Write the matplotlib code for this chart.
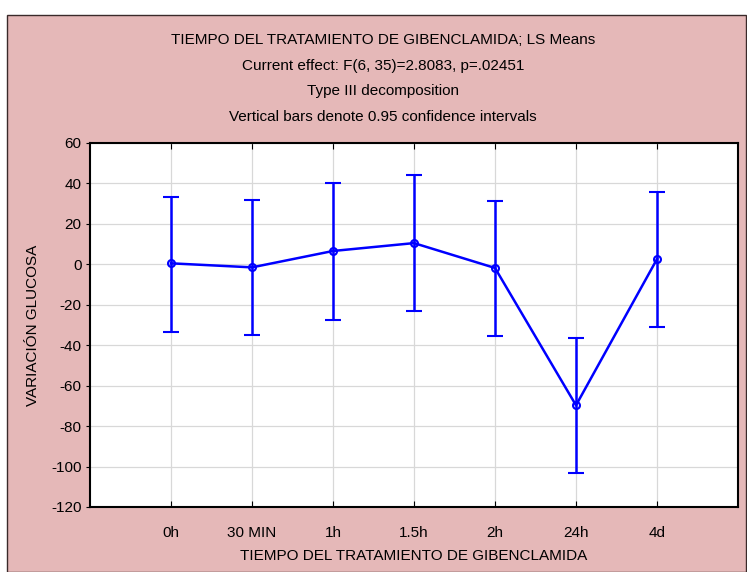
import matplotlib
matplotlib.use("Agg")
import matplotlib.pyplot as plt
from matplotlib.patches import Rectangle

categories = ["0h", "30 MIN", "1h", "1.5h", "2h", "24h", "4d"]
means = [0.5, -1.5, 6.6, 10.5, -1.8, -69.7, 2.6]
upper = [33.3, 31.8, 40.2, 44.2, 31.3, -36.5, 35.8]
lower = [-33.5, -35.0, -27.5, -23.0, -35.5, -103.0, -31.0]
yticks = [60, 40, 20, 0, -20, -40, -60, -80, -100, -120]

titles = ["TIEMPO DEL TRATAMIENTO DE GIBENCLAMIDA; LS Means",
          "Current effect: F(6, 35)=2.8083, p=.02451",
          "Type III decomposition",
          "Vertical bars denote 0.95 confidence intervals"]
xlabel = "TIEMPO DEL TRATAMIENTO DE GIBENCLAMIDA"
ylabel = "VARIACIÓN GLUCOSA"

plt.rcParams['font.family'] = ['Liberation Sans', 'DejaVu Sans']
plt.rcParams['axes.unicode_minus'] = False
W, H = 747, 572
fig = plt.figure(figsize=(W / 100, H / 100), dpi=100)
fig.patch.set_facecolor("white")
pink = "#e5b8b8"
bg = Rectangle((7 / W, 0), (W - 8) / W, (H - 15) / H, transform=fig.transFigure,
               facecolor=pink, edgecolor="#3a2a2a", linewidth=1.0, zorder=-10)
fig.add_artist(bg)

ax = fig.add_axes([90 / W, 1 - 507 / H, (738 - 90) / W, (507 - 143) / H])
ax.set_zorder(5)
ax.set_facecolor("white")
x = list(range(len(categories)))
yerr = [[m - l for m, l in zip(means, lower)], [u - m for m, u in zip(means, upper)]]
ax.errorbar(x, means, yerr=yerr, color="#0000ff", linewidth=1.8, elinewidth=1.8,
            capsize=6, capthick=1.8, marker="o", markersize=5, markerfacecolor="none",
            markeredgewidth=1.5, zorder=3)
ax.set_xlim(-1, 7)
ax.set_ylim(-120, 60)
ax.set_xticks(x)
ax.set_xticklabels(categories)
ax.set_yticks(yticks)
ax.grid(True, color="#d8d8d8", linewidth=0.9)
ax.set_axisbelow(True)
for s in ax.spines.values():
    s.set_linewidth(1.5)
    s.set_color("black")
ax.tick_params(axis="x", direction="in", top=True, length=4, labelsize=11, pad=14, colors="black")
ax.tick_params(axis="y", direction="out", length=3, labelsize=11, pad=3)
ax.set_xlabel(xlabel, fontsize=11, labelpad=6)
ax.set_ylabel(ylabel, fontsize=11, labelpad=8)

for i, t in enumerate(titles):
    fig.text(383 / W, 1 - (40 + i * 25.7) / H, t, ha="center", va="center", fontsize=11, zorder=6)

fig.savefig("out.png", dpi=100, facecolor=fig.get_facecolor())
